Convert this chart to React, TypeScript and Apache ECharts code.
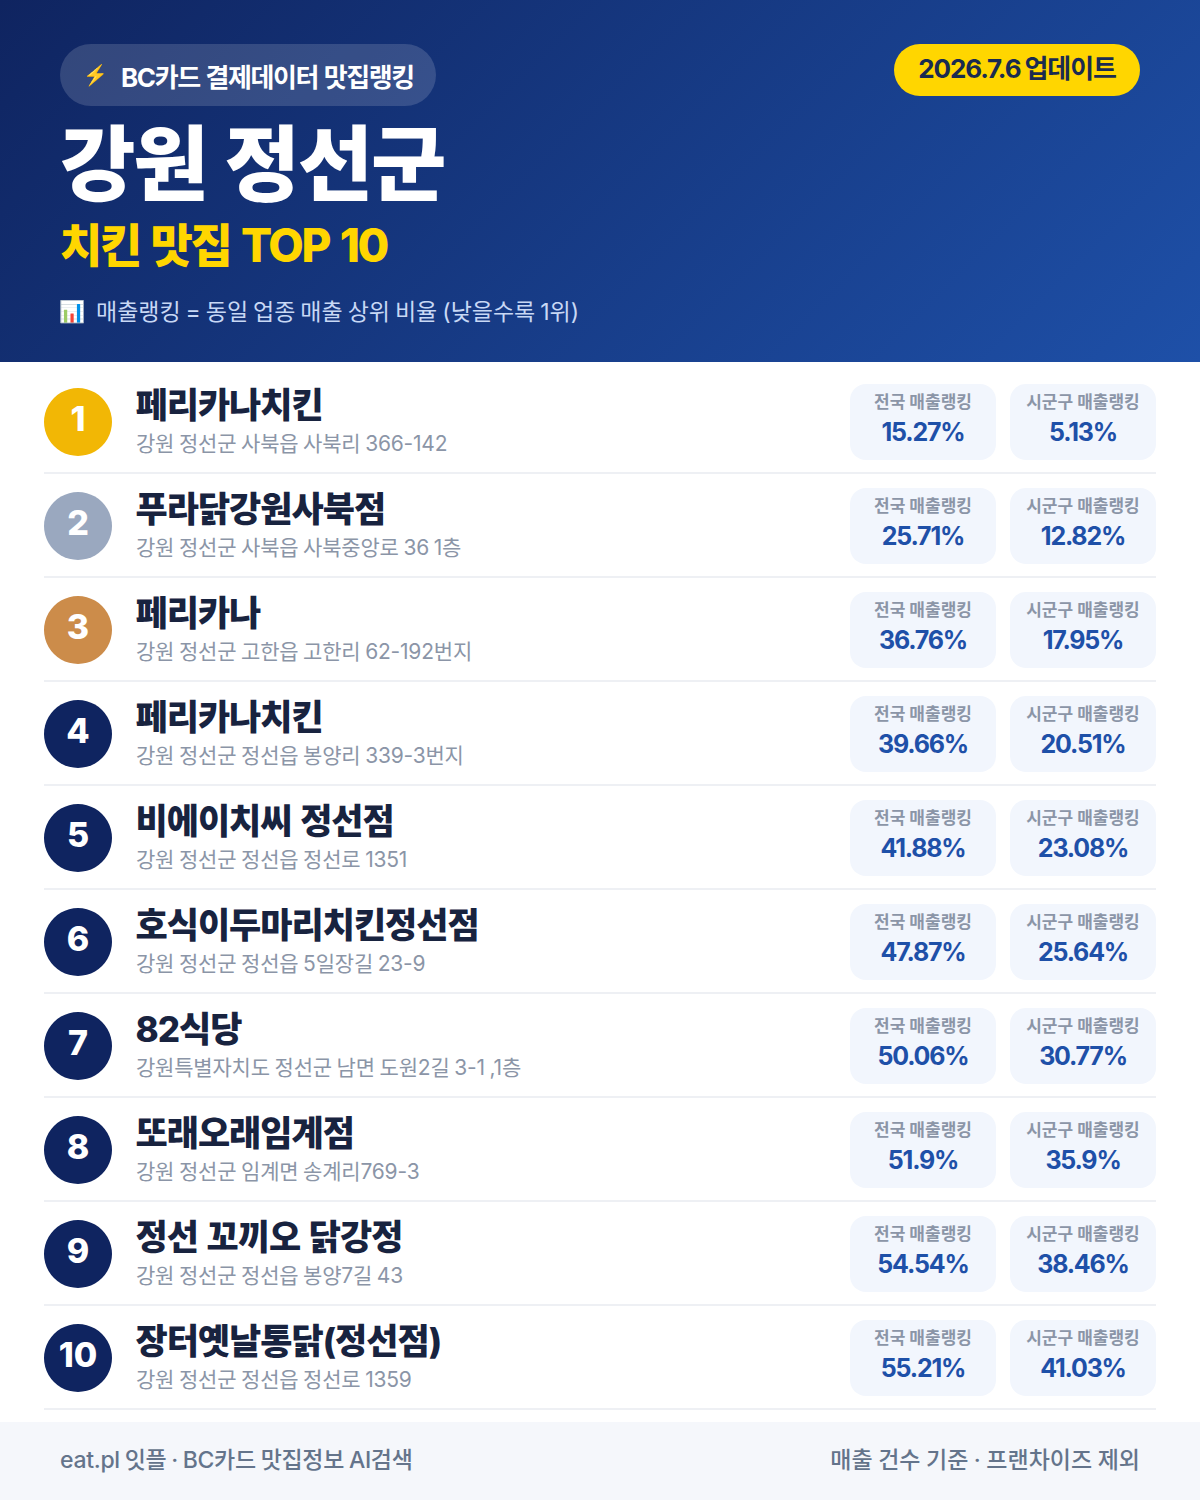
import React, { useEffect, useRef } from "react";
import * as echarts from "echarts";

const names = ["페리카나치킨", "푸라닭강원사북점", "페리카나", "페리카나치킨", "비에이치씨 정선점", "호식이두마리치킨정선점", "82식당", "또래오래임계점", "정선 꼬끼오 닭강정", "장터옛날통닭(정선점)"];
const addresses = ["강원 정선군 사북읍 사북리 366-142", "강원 정선군 사북읍 사북중앙로 36 1층", "강원 정선군 고한읍 고한리 62-192번지", "강원 정선군 정선읍 봉양리 339-3번지", "강원 정선군 정선읍 정선로 1351", "강원 정선군 정선읍 5일장길 23-9", "강원특별자치도 정선군 남면 도원2길 3-1 ,1층", "강원 정선군 임계면 송계리769-3", "강원 정선군 정선읍 봉양7길 43", "강원 정선군 정선읍 정선로 1359"];
const nationalRank = ["15.27%", "25.71%", "36.76%", "39.66%", "41.88%", "47.87%", "50.06%", "51.9%", "54.54%", "55.21%"];
const localRank = ["5.13%", "12.82%", "17.95%", "20.51%", "23.08%", "25.64%", "30.77%", "35.9%", "38.46%", "41.03%"];
const ranks = ["1", "2", "3", "4", "5", "6", "7", "8", "9", "10"];
const rankColors = ["#f2b705", "#9aa8bf", "#cc8c4a", "#0f2460", "#0f2460", "#0f2460", "#0f2460", "#0f2460", "#0f2460", "#0f2460"];

const FF = 'Inter, "Noto Sans CJK KR", sans-serif';
const spacing = new Map<string, [number, number]>();
const txt = (text: string, x: number, y: number, size: number, weight: number, fill: string, align = "left", ls = 0, ws = 0) => {
  spacing.set(text, [ls, ws]);
  return {
    type: "text",
    style: { text, x, y, fontSize: size, fontWeight: weight, fontFamily: FF, fill, align, verticalAlign: "middle" },
  };
};

function renderRow(params: any, api: any) {
  const i = params.dataIndex;
  const cy = api.coord([0, i])[1];
  const card = (x: number) => ({
    type: "rect",
    shape: { x, y: cy - 38, width: 146, height: 76, r: 16 },
    style: { fill: "#f2f6fd" },
  });
  return {
    type: "group",
    children: [
      { type: "circle", shape: { cx: 78, cy, r: 34 }, style: { fill: rankColors[i] } },
      txt(ranks[i], 78, cy - 4, 34, 800, "#ffffff", "center"),
      txt(names[i], 135.5, cy - 17, 35, 800, "#18233f", "left", -1, 2),
      txt(addresses[i], 136, cy + 21, 21, 400, "#8b95a7", "left", -0.2, -1),
      card(850),
      card(1010),
      txt("전국 매출랭킹", 923, cy - 20, 17, 700, "#8b95a7", "center"),
      txt("시군구 매출랭킹", 1083, cy - 20, 17, 700, "#8b95a7", "center"),
      txt(nationalRank[i], 923, cy + 10, 25, 700, "#1e50a8", "center", -1.2),
      txt(localRank[i], 1083, cy + 10, 25, 700, "#1e50a8", "center", -1.2),
      { type: "rect", shape: { x: 44, y: cy + 50, width: 1112, height: 2 }, style: { fill: "#eef0f4" } },
    ],
  };
}

export default function App() {
  const ref = useRef<HTMLDivElement>(null);
  useEffect(() => {
    document.body.style.margin = "0";
    const chart = echarts.init(ref.current!, undefined, { renderer: "svg" });
    chart.setOption({
      animation: false,
      backgroundColor: "#ffffff",
      grid: { left: 0, right: 0, top: 370, height: 1040 },
      xAxis: { type: "value", min: 0, max: 1200, show: false },
      yAxis: { type: "category", data: names, inverse: true, show: false },
      series: [
        {
          type: "custom",
          renderItem: renderRow,
          data: names.map((_, i) => [0, i]),
          encode: { x: 0, y: 1 },
          clip: false,
          silent: true,
        },
      ],
      graphic: [
        {
          type: "rect",
          shape: { x: 0, y: 0, width: 1200, height: 362 },
          style: {
            fill: {
              type: "linear", global: true, x: 209.5, y: -209.5, x2: 990.5, y2: 571.5,
              colorStops: [{ offset: 0, color: "#0f2460" }, { offset: 1, color: "#1e50a8" }],
            },
          },
        },
        { type: "rect", shape: { x: 60, y: 44, width: 376, height: 62, r: 31 }, style: { fill: "rgba(255,255,255,0.15)" } },
        txt("⚡", 95, 75, 20, 400, "#ffc83d", "center"),
        txt("BC카드 결제데이터 맛집랭킹", 121, 77, 26, 700, "#ffffff", "left", -1.4, 1),
        { type: "rect", shape: { x: 894, y: 44, width: 246, height: 52, r: 26 }, style: { fill: "#ffd600" } },
        txt("2026.7.6 업데이트", 1017, 68, 26, 700, "#1a2b50", "center", -1.1, -1),
        txt("강원 정선군", 60, 164, 82, 900, "#ffffff", "left", -2.2, 4),
        txt("치킨 맛집 TOP 10", 60, 245, 46, 800, "#ffd600", "left", -2.4, 3),
        txt("📊", 72, 311, 21, 400, "#c8d8f5", "center"),
        txt("매출랭킹 = 동일 업종 매출 상위 비율 (낮을수록 1위)", 96, 312, 23, 400, "#c8d8f5", "left", 0, -1.5),
        { type: "rect", shape: { x: 0, y: 1422, width: 1200, height: 78 }, style: { fill: "#f5f7fb" } },
        txt("eat.pl 잇플 · BC카드 맛집정보 AI검색", 60, 1460, 23, 500, "#64748b", "left", -0.3, -1),
        txt("매출 건수 기준 · 프랜차이즈 제외", 1140, 1460, 23, 500, "#64748b", "right", 0, -0.6),
      ],
    });
    ref.current!.querySelectorAll("text").forEach((el) => {
      const sp = spacing.get(el.textContent || "");
      if (sp) {
        (el as SVGTextElement).style.letterSpacing = sp[0] + "px";
        (el as SVGTextElement).style.wordSpacing = sp[1] + "px";
      }
    });
    return () => chart.dispose();
  }, []);
  return <div ref={ref} style={{ width: 1200, height: 1500 }} />;
}
